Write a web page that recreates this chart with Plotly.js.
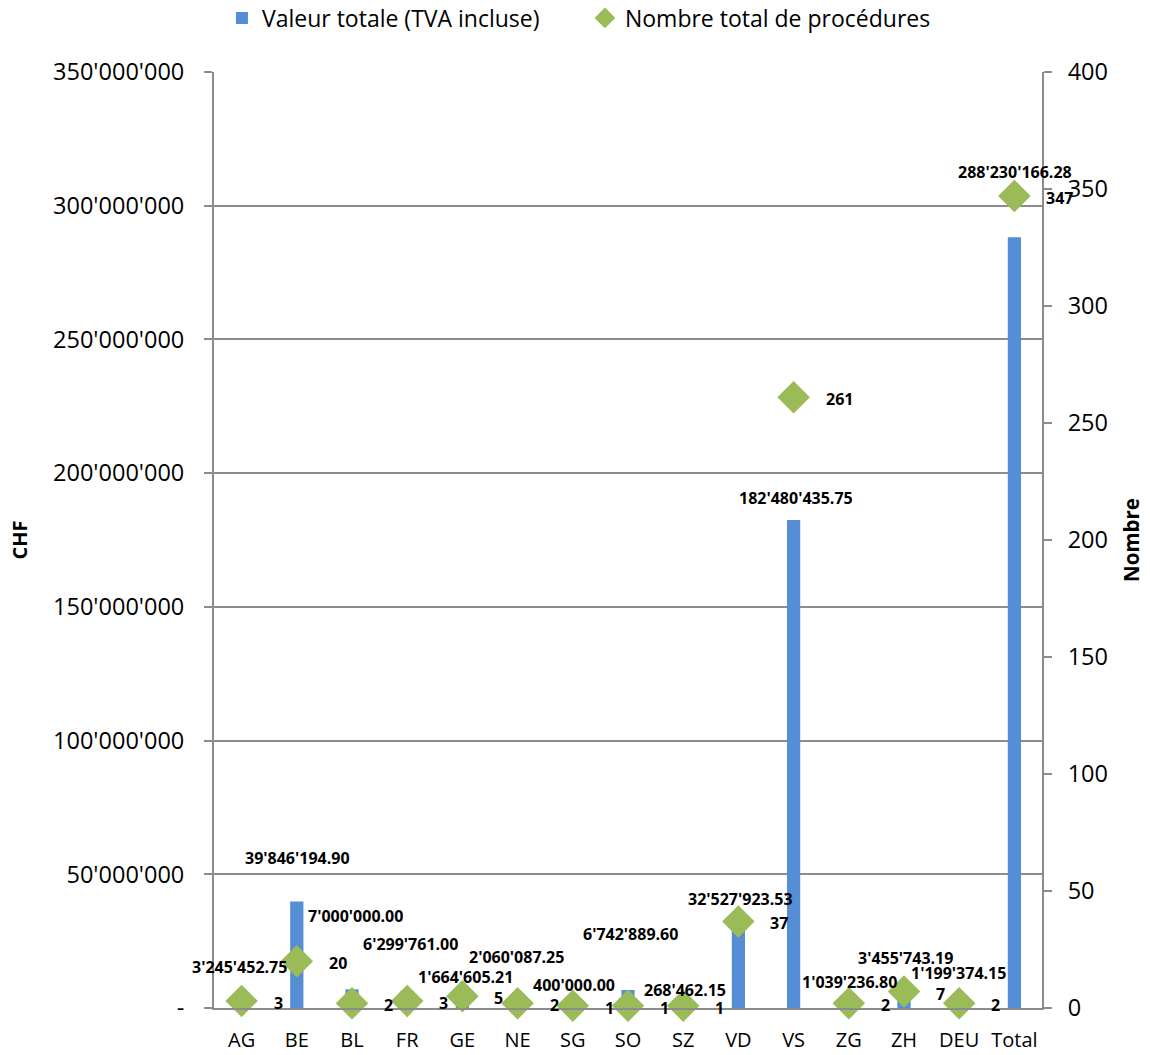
<!DOCTYPE html>
<html>
<head>
<meta charset="utf-8">
<script src="https://cdn.plot.ly/plotly-3.0.1.min.js"></script>
<style>html,body{margin:0;padding:0;background:#fff;}#chart{width:1150px;height:1055px;}</style>
</head>
<body>
<div id="chart"></div>
<script>
const categories = ['AG','BE','BL','FR','GE','NE','SG','SO','SZ','VD','VS','ZG','ZH','DEU','Total'];
const valeurTotale = [3245452.75, 39846194.90, 7000000.00, 6299761.00, 1664605.21, 2060087.25, 400000.00, 6742889.60, 268462.15, 32527923.53, 182480435.75, 1039236.80, 3455743.19, 1199374.15, 288230166.28];
const nombreProcedures = [3, 20, 2, 3, 5, 2, 1, 1, 1, 37, 261, 2, 7, 2, 347];
const leftTickVals = [0, 50000000, 100000000, 150000000, 200000000, 250000000, 300000000, 350000000];
const leftTickText = ['-', "50'000'000", "100'000'000", "150'000'000", "200'000'000", "250'000'000", "300'000'000", "350'000'000"];
const rightTickVals = [0, 50, 100, 150, 200, 250, 300, 350, 400];

// label placement offsets (pixels) — layout only
const barLabelShiftY = [32, 43, 73, 47, 27, 45, 22, 56, 17, 22, 22, 23, 41, 32, 65];
const barLabelShiftX = [-2, 1, 3, 3, 3, -1, 1, 2, 2, 2, 2, 1, 1, -1, 1];

function fmtCHF(v) {
  const parts = v.toFixed(2).split('.');
  const intPart = parts[0].replace(/\B(?=(\d{3})+(?!\d))/g, "'");
  return intPart + '.' + parts[1];
}

const FONT = 'Open Sans, Noto Sans, sans-serif';
const GRID = '#8c8c8c';

const traces = [
  {
    type: 'bar',
    name: 'Valeur totale (TVA incluse)',
    x: categories,
    y: valeurTotale,
    marker: {color: '#558ED5'},
    width: 0.24,
    yaxis: 'y',
    hoverinfo: 'x+y'
  },
  {
    type: 'scatter',
    mode: 'markers',
    name: 'Nombre total de procédures',
    x: categories,
    y: nombreProcedures,
    yaxis: 'y2',
    marker: {symbol: 'diamond', size: 25, color: '#9BBB59'},
    cliponaxis: false
  }
];

const annotations = [];
categories.forEach((c, i) => {
  annotations.push({
    x: c, y: valeurTotale[i], xref: 'x', yref: 'y',
    text: '<b>' + fmtCHF(valeurTotale[i]) + '</b>',
    showarrow: false, xanchor: 'center', yanchor: 'middle',
    xshift: barLabelShiftX[i], yshift: barLabelShiftY[i],
    font: {family: FONT, size: 16, color: '#000'}
  });
  annotations.push({
    x: c, y: nombreProcedures[i], xref: 'x', yref: 'y2',
    text: '<b>' + nombreProcedures[i] + '</b>',
    showarrow: false, xanchor: 'left', yanchor: 'middle',
    xshift: 30, yshift: -2,
    font: {family: FONT, size: 16, color: '#000'}
  });
});

const layout = {
  width: 1150,
  height: 1055,
  margin: {l: 214, r: 108, t: 72, b: 47, pad: 0, autoexpand: false},
  paper_bgcolor: '#fff',
  plot_bgcolor: '#fff',
  font: {family: FONT, size: 20, color: '#000'},
  showlegend: true,
  legend: {
    orientation: 'h',
    xref: 'container', yref: 'container',
    x: 0.193, xanchor: 'left',
    y: 0.983, yanchor: 'middle',
    font: {family: FONT, size: 23, color: '#000'},
    entrywidth: 318,
    itemsizing: 'trace'
  },
  xaxis: {
    type: 'category',
    range: [-0.5, 14.5],
    showline: true, linecolor: GRID, linewidth: 2,
    ticks: 'outside', ticklen: 13, tickcolor: 'rgba(0,0,0,0)',
    tickfont: {family: FONT, size: 20, color: '#000'},
    showgrid: false, zeroline: false,
    fixedrange: true
  },
  yaxis: {
    range: [0, 350000000],
    tickvals: leftTickVals,
    ticktext: leftTickText,
    showline: true, linecolor: GRID, linewidth: 2,
    ticks: 'outside', ticklen: 8, tickcolor: GRID, tickwidth: 2,
    ticklabelstandoff: 15,
    showgrid: true, gridcolor: GRID, gridwidth: 2,
    zeroline: false,
    tickfont: {family: FONT, size: 23.5, color: '#000'},
    title: {text: '<b>CHF</b>', font: {family: FONT, size: 20, color: '#000'}, standoff: 20}
  },
  yaxis2: {
    overlaying: 'y',
    side: 'right',
    range: [0, 400],
    tickvals: rightTickVals,
    showline: true, linecolor: GRID, linewidth: 2,
    ticks: 'outside', ticklen: 8, tickcolor: GRID, tickwidth: 2,
    ticklabelstandoff: 11,
    showgrid: false, zeroline: false,
    tickfont: {family: FONT, size: 23.5, color: '#000'},
    title: {text: '<b>Nombre</b>', font: {family: FONT, size: 20.5, color: '#000'}, standoff: 18}
  },
  annotations: annotations
};

Plotly.newPlot('chart', traces, layout, {displayModeBar: false, staticPlot: true});
</script>
</body>
</html>
